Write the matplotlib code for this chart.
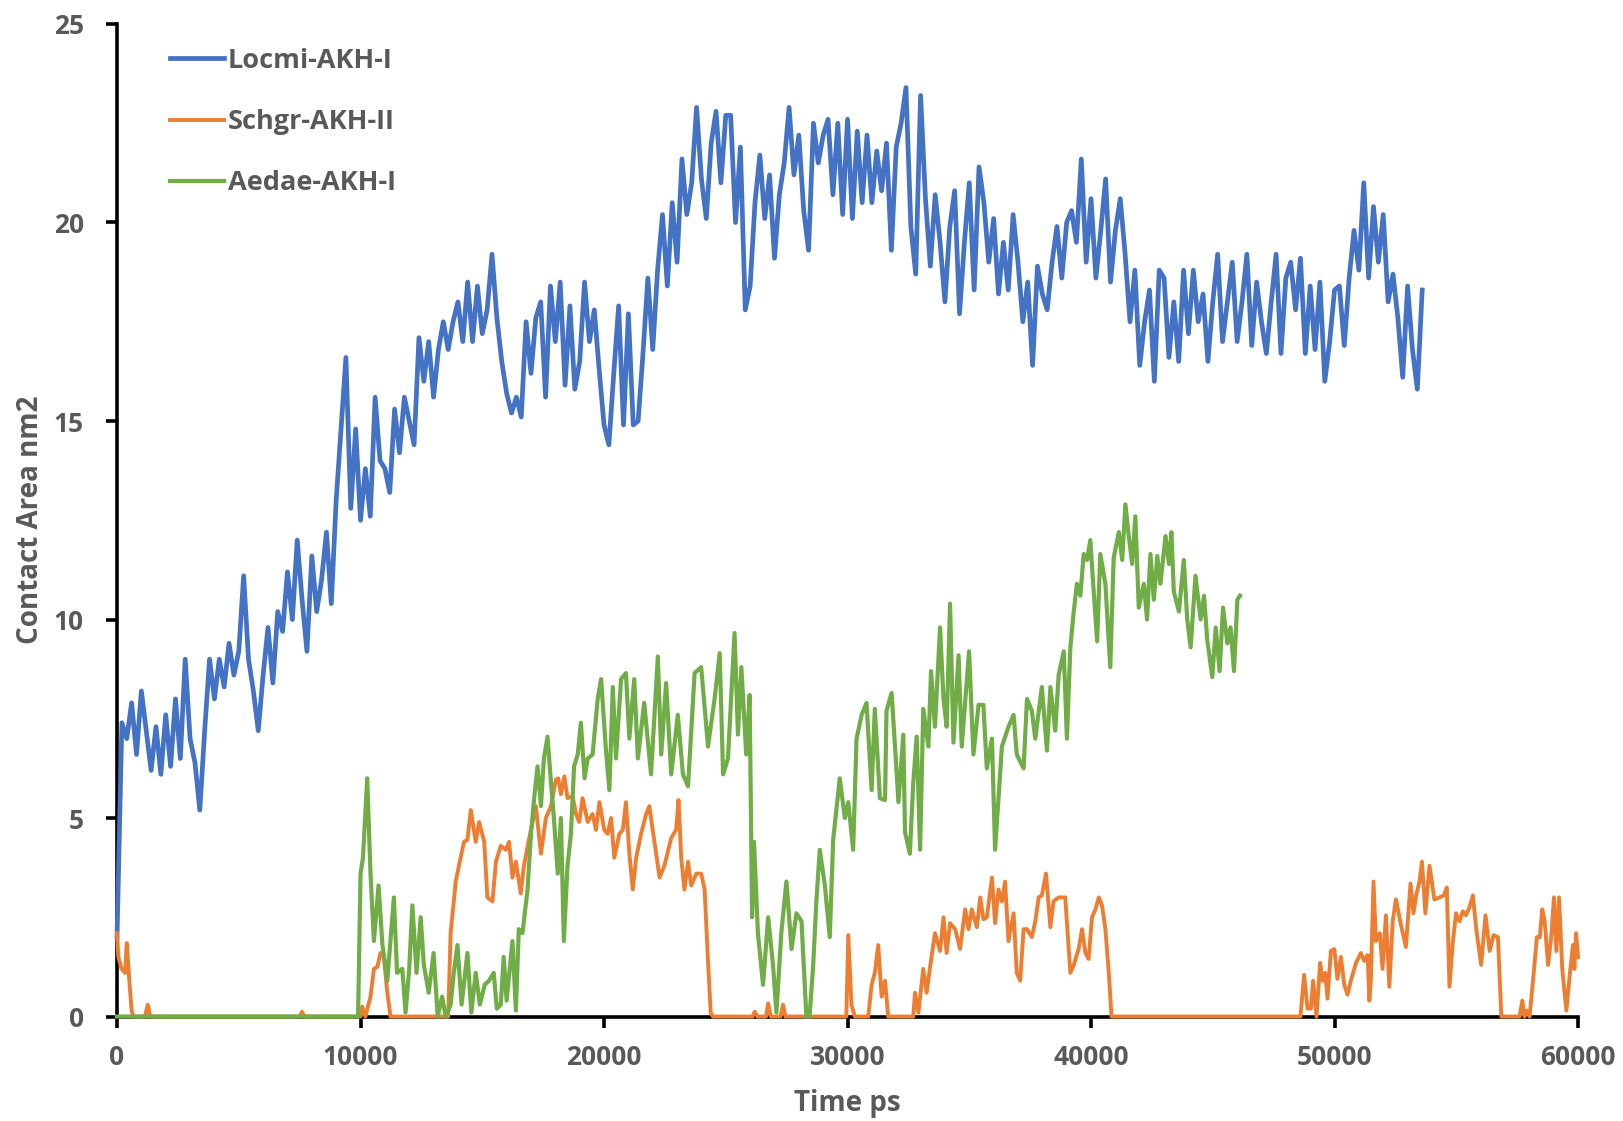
import numpy as np
import matplotlib.pyplot as plt

plt.rcParams['font.family'] = ['Open Sans', 'DejaVu Sans']

# Locmi-AKH-I, sampled every 200 ps from 0 to 53600 ps
locmi_step = 200
locmi_area = [
    2.0, 7.4, 7.0, 7.9, 6.6, 8.2, 7.2, 6.2, 7.3, 6.1,
    7.6, 6.3, 8.0, 6.5, 9.0, 7.0, 6.4, 5.2, 7.2, 9.0,
    8.0, 9.0, 8.3, 9.4, 8.6, 9.2, 11.1, 9.0, 8.2, 7.2,
    8.6, 9.8, 8.4, 10.2, 9.7, 11.2, 10.0, 12.0, 10.5, 9.2,
    11.6, 10.2, 11.0, 12.2, 10.4, 13.0, 14.8, 16.6, 12.8, 14.8,
    12.5, 13.8, 12.6, 15.6, 14.0, 13.8, 13.2, 15.3, 14.2, 15.6,
    15.0, 14.4, 17.1, 16.0, 17.0, 15.6, 16.8, 17.5, 16.8, 17.5,
    18.0, 17.0, 18.5, 17.0, 18.4, 17.2, 17.8, 19.2, 17.6, 16.5,
    15.7, 15.2, 15.6, 15.1, 17.5, 16.2, 17.6, 18.0, 15.6, 18.4,
    17.0, 18.5, 15.9, 17.9, 15.8, 16.5, 18.5, 17.0, 17.8, 16.3,
    14.9, 14.4, 16.2, 17.9, 14.9, 17.7, 14.9, 15.0, 16.7, 18.6,
    16.8, 18.8, 20.2, 18.4, 20.5, 19.0, 21.6, 20.2, 21.0, 22.9,
    21.1, 20.1, 22.0, 22.8, 21.0, 22.7, 22.7, 20.0, 21.9, 17.8,
    18.4, 20.5, 21.7, 20.1, 21.2, 19.1, 20.7, 21.5, 22.9, 21.2,
    22.2, 20.3, 19.3, 22.5, 21.5, 22.2, 22.6, 20.7, 22.5, 20.2,
    22.6, 20.1, 22.3, 20.5, 22.2, 20.5, 21.8, 20.8, 22.0, 19.3,
    21.9, 22.5, 23.4, 19.9, 18.7, 23.2, 20.6, 18.9, 20.7, 19.5,
    18.0, 19.9, 20.8, 17.7, 19.5, 21.0, 18.3, 21.4, 20.5, 19.0,
    20.1, 18.2, 19.5, 18.3, 20.2, 19.0, 17.5, 18.5, 16.4, 18.9,
    18.2, 17.8, 19.0, 19.9, 18.6, 20.0, 20.3, 19.5, 21.6, 19.0,
    20.6, 18.6, 19.8, 21.1, 18.5, 19.8, 20.6, 19.2, 17.5, 18.8,
    16.4, 17.5, 18.3, 16.0, 18.8, 18.6, 16.6, 18.0, 16.5, 18.8,
    17.2, 18.8, 17.5, 18.2, 16.5, 18.0, 19.2, 17.0, 18.0, 19.0,
    17.0, 18.0, 19.2, 16.9, 18.5, 17.5, 16.7, 18.0, 19.2, 16.7,
    18.6, 19.0, 17.8, 19.1, 16.7, 18.4, 16.8, 18.5, 16.0, 17.0,
    18.3, 18.4, 16.9, 18.6, 19.8, 18.8, 21.0, 18.6, 20.4, 19.0,
    20.2, 18.0, 18.7, 17.6, 16.1, 18.4, 16.8, 15.8, 18.3,
]
locmi_time = np.arange(len(locmi_area)) * locmi_step

# Schgr-AKH-II (ps, nm2)
schgr_time = [
    0, 55, 190, 330, 400, 505, 600, 670, 1150, 1260, 1370, 7500, 7600, 7700,
    10000, 10070, 10200, 10410, 10550, 10690, 10820, 10960, 11100, 11230, 13600,
    13700, 13910, 14040, 14250, 14390, 14530, 14730, 14870, 15080, 15210, 15420,
    15560, 15760, 15970, 16100, 16240, 16380, 16580, 16710, 16930, 17200, 17410,
    17610, 17820, 18020, 18120, 18230, 18370, 18500, 18710, 18850, 18980, 19120,
    19330, 19530, 19670, 19810, 20010, 20150, 20290, 20420, 20630, 20770, 20900,
    21040, 21180, 21320, 21520, 21730, 21860, 22070, 22280, 22480, 22760, 22960,
    23060, 23170, 23300, 23450, 23580, 23790, 23990, 24130, 24270, 24380, 24470,
    26100, 26190, 26300, 26650, 26740, 26850, 27250, 27350, 27450, 29950, 30030,
    30160, 30300, 30850, 30990, 31120, 31260, 31400, 31540, 31670, 32700, 32770,
    32910, 33110, 33250, 33390, 33590, 33800, 33940, 34070, 34210, 34420, 34620,
    34830, 34970, 35100, 35310, 35450, 35580, 35720, 35930, 36060, 36200, 36340,
    36470, 36610, 36820, 36950, 37090, 37230, 37370, 37570, 37710, 37850, 37980,
    38150, 38330, 38460, 38670, 38940, 39150, 39290, 39490, 39630, 39770, 39900,
    40040, 40180, 40320, 40450, 40590, 40730, 40840, 48600, 48750, 48890, 49030,
    49120, 49260, 49410, 49510, 49620, 49710, 49850, 49990, 50120, 50260, 50400,
    50530, 50670, 50880, 51080, 51220, 51360, 51430, 51490, 51600, 51700, 51860,
    51970, 52110, 52250, 52390, 52520, 52730, 52930, 53120, 53240, 53350, 53490,
    53590, 53730, 53900, 54100, 54310, 54490, 54610, 54720, 54860, 54990, 55130,
    55270, 55400, 55540, 55680, 55820, 56020, 56200, 56370, 56530, 56710, 56850,
    57600, 57710, 57800, 57880, 58010, 58150, 58310, 58430, 58530, 58630, 58770,
    58900, 59010, 59110, 59220, 59350, 59520, 59660, 59790, 59850, 59920, 60000,
]
schgr_area = [
    2.1, 1.5, 1.2, 1.1, 1.85, 0.9, 0.15, 0.0, 0.0, 0.3, 0.0, 0.0, 0.12, 0.0,
    0.0, 0.25, 0.0, 0.5, 1.2, 1.25, 1.6, 1.5, 0.6, 0.0, 0.0,
    2.1, 3.4, 3.8, 4.4, 4.45, 5.2, 4.4, 4.9, 4.4, 3.0, 2.9,
    3.9, 4.3, 4.2, 4.4, 3.5, 3.9, 3.1, 3.8, 4.5, 5.3, 4.1,
    5.0, 5.3, 5.96, 6.0, 5.6, 6.05, 5.5, 5.55, 5.1, 4.9, 5.5,
    4.9, 5.1, 4.7, 5.4, 4.7, 4.6, 5.0, 4.0, 4.6, 4.7, 5.4,
    4.1, 3.2, 4.0, 4.6, 5.1, 5.3, 4.4, 3.5, 3.8, 4.5, 4.7,
    5.45, 4.0, 3.2, 3.9, 3.3, 3.6, 3.6, 3.2, 1.4, 0.1, 0.0,
    0.0, 0.12, 0.0, 0.0, 0.33, 0.0, 0.0, 0.3, 0.0, 0.0, 2.05,
    0.3, 0.0, 0.0, 0.8, 1.1, 1.8, 0.5, 0.9, 0.0, 0.0, 0.6,
    0.1, 1.2, 0.6, 1.25, 2.1, 1.65, 2.5, 1.6, 2.35, 2.2, 1.7,
    2.7, 2.2, 2.7, 2.25, 3.0, 2.45, 2.5, 3.5, 2.35, 3.2, 2.9,
    3.4, 1.9, 2.6, 1.1, 0.9, 2.2, 2.2, 2.0, 2.4, 3.0, 3.05,
    3.6, 2.25, 2.9, 3.0, 3.0, 1.1, 1.3, 1.7, 2.2, 1.6, 1.45,
    2.5, 2.7, 3.0, 2.8, 2.2, 1.1, 0.0, 0.0, 1.05, 0.2, 0.2,
    0.9, 0.0, 1.35, 0.9, 1.1, 0.45, 1.65, 1.7, 0.95, 1.5, 0.8,
    0.55, 0.9, 1.35, 1.6, 1.4, 1.55, 0.4, 0.9, 3.4, 1.9, 2.1,
    1.2, 2.55, 0.75, 2.4, 2.95, 2.3, 1.75, 3.35, 2.6, 3.05, 3.4,
    3.9, 2.6, 3.8, 2.95, 3.0, 3.05, 3.25, 0.75, 1.9, 2.6, 2.4,
    2.65, 2.55, 2.75, 3.05, 2.2, 1.3, 2.55, 1.65, 2.05, 2.0, 0.0,
    0.0, 0.4, 0.0, 0.15, 0.0, 0.9, 2.0, 2.0, 2.7, 2.4, 1.3,
    2.0, 3.0, 1.65, 3.0, 1.2, 0.15, 1.05, 1.8, 1.2, 2.1, 1.5,
]

# Aedae-AKH-I (ps, nm2)
aedae_time = [
    0, 9900, 10000, 10100, 10275, 10410, 10550, 10740, 10900, 11100, 11370,
    11500, 11715, 11850, 12000, 12130, 12300, 12470, 12600, 12800, 13000, 13170,
    13350, 13500, 13700, 13830, 13980, 14150, 14390, 14550, 14730, 14900, 15100,
    15270, 15470, 15600, 15760, 15880, 16000, 16240, 16380, 16500, 16650, 16860,
    17000, 17130, 17270, 17410, 17530, 17680, 17820, 17940, 18100, 18230, 18350,
    18500, 18640, 18770, 18920, 19050, 19200, 19330, 19530, 19740, 19880, 20080,
    20220, 20360, 20490, 20700, 20900, 21040, 21240, 21390, 21650, 21930, 22210,
    22350, 22550, 22760, 23030, 23240, 23450, 23720, 23990, 24270, 24540, 24750,
    24890, 25090, 25360, 25500, 25640, 25840, 25980, 26080, 26160, 26320, 26530,
    26740, 26940, 27080, 27280, 27490, 27700, 27900, 28110, 28310, 28440, 28590,
    28720, 28860, 29070, 29270, 29410, 29680, 29890, 30030, 30230, 30370, 30580,
    30780, 30990, 31120, 31330, 31540, 31600, 31810, 31950, 32090, 32290, 32360,
    32560, 32700, 32840, 32980, 33110, 33320, 33430, 33590, 33800, 33940, 34070,
    34210, 34350, 34560, 34690, 34990, 35170, 35380, 35580, 35720, 35930, 36060,
    36200, 36340, 36610, 36820, 36950, 37230, 37370, 37570, 37710, 37980, 38190,
    38330, 38530, 38670, 38880, 39010, 39150, 39290, 39420, 39560, 39700, 39840,
    39970, 40110, 40250, 40380, 40590, 40790, 40930, 41140, 41280, 41410, 41550,
    41690, 41820, 41960, 42170, 42300, 42440, 42580, 42720, 42850, 43060, 43200,
    43300, 43400, 43610, 43810, 43950, 44090, 44290, 44500, 44640, 44770, 44980,
    45120, 45280, 45420, 45600, 45730, 45870, 46010, 46120,
]
aedae_area = [
    0.0, 0.0, 3.6, 4.0, 6.0, 3.6, 1.9, 3.3, 1.8, 0.9, 3.0,
    1.1, 1.2, 0.1, 1.2, 2.8, 1.1, 2.5, 1.3, 0.6, 1.6, 0.0,
    0.5, 0.0, 0.3, 1.1, 1.8, 0.3, 1.6, 0.1, 1.1, 0.3, 0.8,
    0.9, 1.1, 0.2, 0.3, 1.5, 0.4, 1.9, 0.15, 2.2, 2.1, 3.2,
    4.6, 5.5, 6.3, 5.3, 6.5, 7.05, 5.9, 5.0, 3.6, 5.0, 1.9,
    3.8, 4.6, 6.3, 6.6, 7.4, 6.0, 6.5, 6.6, 8.0, 8.5, 6.7,
    5.7, 8.3, 6.5, 8.5, 8.65, 7.0, 8.5, 6.5, 7.9, 6.1, 9.07,
    6.6, 8.4, 6.1, 7.6, 6.1, 5.8, 8.65, 8.8, 6.8, 8.0, 9.15,
    6.1, 6.5, 9.66, 7.1, 8.8, 6.6, 8.1, 2.5, 4.4, 2.1, 0.8,
    2.5, 1.3, 0.1, 2.1, 3.4, 1.7, 2.6, 2.4, 0.0, 0.0, 1.3,
    2.9, 4.2, 3.3, 2.0, 4.45, 6.0, 5.0, 5.4, 4.2, 7.0, 7.6,
    7.9, 5.7, 7.75, 5.5, 5.45, 7.7, 8.15, 6.8, 5.4, 7.1, 4.65,
    4.1, 5.9, 7.05, 4.2, 7.75, 6.8, 8.7, 7.3, 9.8, 8.0, 7.3,
    10.4, 6.9, 9.1, 6.8, 9.2, 6.6, 7.85, 7.85, 6.25, 7.0, 4.2,
    5.5, 6.8, 7.3, 7.6, 6.6, 6.25, 8.0, 7.7, 7.0, 8.3, 6.7,
    8.3, 7.2, 8.6, 9.2, 7.0, 9.3, 10.2, 10.9, 10.6, 11.65, 11.5,
    12.0, 10.7, 9.45, 11.65, 10.9, 8.8, 11.55, 12.2, 11.5, 12.9, 12.1,
    11.4, 12.6, 10.3, 10.9, 10.0, 11.65, 10.5, 11.6, 10.9, 12.1, 11.4,
    12.2, 10.7, 10.2, 11.5, 10.0, 9.3, 11.1, 10.0, 10.6, 9.5, 8.55,
    9.8, 8.7, 10.3, 9.4, 9.8, 8.7, 10.5, 10.6,
]

series_names = ['Locmi-AKH-I', 'Schgr-AKH-II', 'Aedae-AKH-I']
series_colors = ['#4472C4', '#ED7D31', '#70AD47']
text_color = '#595959'

fig = plt.figure(figsize=(16.23, 11.21), dpi=100)
ax = fig.add_axes([0.0721, 0.0932, 0.9002, 0.8854])

ax.plot(locmi_time, locmi_area, color=series_colors[0], lw=3.4,
        label=series_names[0], zorder=3, clip_on=False)
ax.plot(schgr_time, schgr_area, color=series_colors[1], lw=2.8,
        label=series_names[1], zorder=3, clip_on=False)
ax.plot(aedae_time, aedae_area, color=series_colors[2], lw=3.0,
        label=series_names[2], zorder=3, clip_on=False)

ax.set_xlim(0, 60000)
ax.set_ylim(0, 25)
ax.set_xticks(np.arange(0, 60001, 10000))
ax.set_yticks(np.arange(0, 26, 5))

for side in ['top', 'right']:
    ax.spines[side].set_visible(False)
for side in ['left', 'bottom']:
    ax.spines[side].set_linewidth(2.6)
    ax.spines[side].set_color('black')

ax.tick_params(direction='out', length=8, width=2.6, colors='black',
               labelcolor=text_color, labelsize=19)
ax.tick_params(axis='x', pad=12)
ax.tick_params(axis='y', pad=16)
for lbl in ax.get_xticklabels() + ax.get_yticklabels():
    lbl.set_fontweight('bold')

ax.set_xlabel('Time ps', fontsize=20, fontweight='bold', color=text_color,
              labelpad=13)
ax.set_ylabel('Contact Area nm2', fontsize=20, fontweight='bold',
              color=text_color, labelpad=6)

leg = ax.legend(loc='upper left', bbox_to_anchor=(0.036, 0.976), frameon=False,
                borderaxespad=0, borderpad=0, handlelength=2.0,
                handletextpad=0.15, labelspacing=1.3,
                prop={'weight': 'bold', 'size': 19.5})
for txt in leg.get_texts():
    txt.set_color(text_color)

fig.savefig('out.png', dpi=100)
